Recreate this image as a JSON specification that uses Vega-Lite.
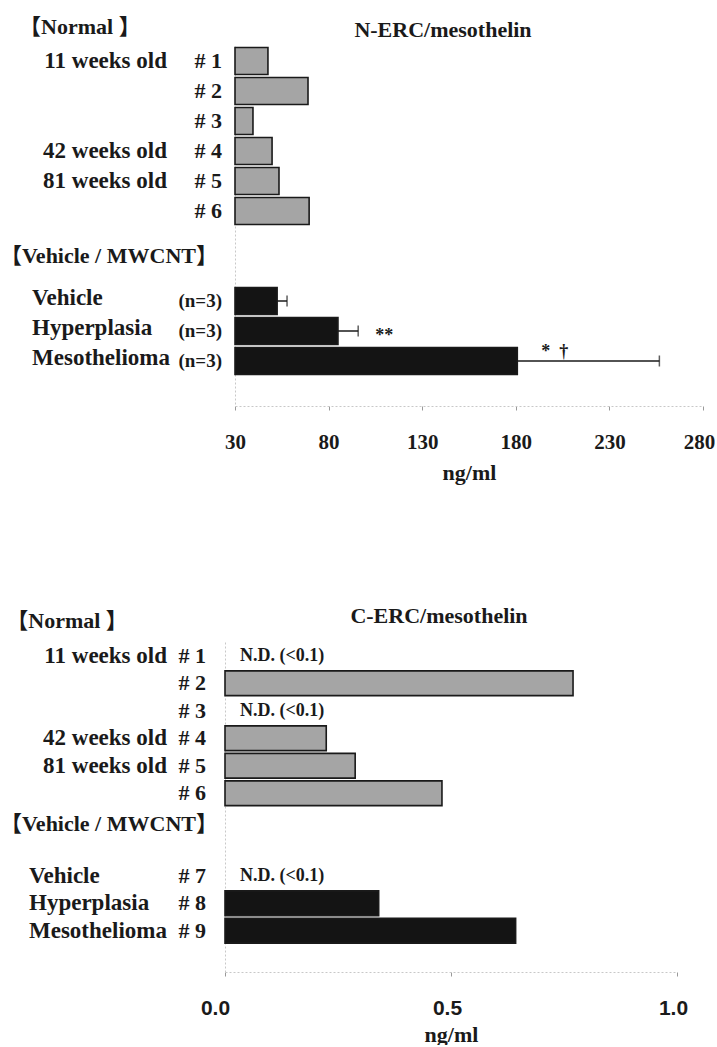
{
  "$schema": "https://vega.github.io/schema/vega-lite/v6.json",
  "background": "white",
  "padding": {"left": 0, "top": 16, "right": 0, "bottom": 0},
  "config": {
    "view": {"stroke": null},
    "font": "Liberation Serif",
    "text": {"font": "Liberation Serif", "fontWeight": "bold", "color": "#1a1a1a"}
  },
  "datasets": {
    "nerc": [
      {"row": "#1", "group": "11 weeks old", "kind": "Normal", "id": "# 1", "value": 47.6},
      {"row": "#2", "group": "", "kind": "Normal", "id": "# 2", "value": 69.0},
      {"row": "#3", "group": "", "kind": "Normal", "id": "# 3", "value": 39.6},
      {"row": "#4", "group": "42 weeks old", "kind": "Normal", "id": "# 4", "value": 49.8},
      {"row": "#5", "group": "81 weeks old", "kind": "Normal", "id": "# 5", "value": 53.5},
      {"row": "#6", "group": "", "kind": "Normal", "id": "# 6", "value": 69.6},
      {"row": "Vehicle", "group": "Vehicle", "kind": "MWCNT", "id": "(n=3)", "value": 52.5, "upper": 57.8, "sig": ""},
      {"row": "Hyperplasia", "group": "Hyperplasia", "kind": "MWCNT", "id": "(n=3)", "value": 85.0, "upper": 95.8, "sig": "**"},
      {"row": "Mesothelioma", "group": "Mesothelioma", "kind": "MWCNT", "id": "(n=3)", "value": 180.8, "upper": 256.7, "sig": "*\u00a0\u00a0†"}
    ],
    "cerc": [
      {"row": "#1", "group": "11 weeks old", "kind": "Normal", "id": "# 1", "value": null, "note": "N.D. (<0.1)"},
      {"row": "#2", "group": "", "kind": "Normal", "id": "# 2", "value": 0.77, "note": ""},
      {"row": "#3", "group": "", "kind": "Normal", "id": "# 3", "value": null, "note": "N.D. (<0.1)"},
      {"row": "#4", "group": "42 weeks old", "kind": "Normal", "id": "# 4", "value": 0.224, "note": ""},
      {"row": "#5", "group": "81 weeks old", "kind": "Normal", "id": "# 5", "value": 0.288, "note": ""},
      {"row": "#6", "group": "", "kind": "Normal", "id": "# 6", "value": 0.48, "note": ""},
      {"row": "#7", "group": "Vehicle", "kind": "MWCNT", "id": "# 7", "value": null, "note": "N.D. (<0.1)"},
      {"row": "#8", "group": "Hyperplasia", "kind": "MWCNT", "id": "# 8", "value": 0.34, "note": ""},
      {"row": "#9", "group": "Mesothelioma", "kind": "MWCNT", "id": "# 9", "value": 0.643, "note": ""}
    ]
  },
  "vconcat": [
    {
      "spacing": 0,
      "hconcat": [
        {
          "width": 224,
          "height": {"step": 30},
          "data": {"name": "nerc"},
          "layer": [
            {
              "transform": [{"filter": "datum.kind === 'Normal' && datum.group !== ''"}],
              "mark": {"type": "text", "align": "right", "baseline": "middle", "fontSize": 23},
              "encoding": {
                "y": {"field": "row", "type": "nominal", "axis": null,
                      "scale": {"type": "band", "domain": ["#1","#2","#3","#4","#5","#6","b1","b2","Vehicle","Hyperplasia","Mesothelioma","b3"], "paddingInner": 0.1, "paddingOuter": 0.05}},
                "x": {"datum": 0.7455, "type": "quantitative", "axis": null, "scale": {"domain": [0, 1], "nice": false, "zero": false}},
                "text": {"field": "group"}
              }
            },
            {
              "transform": [{"filter": "datum.kind === 'MWCNT'"}],
              "mark": {"type": "text", "align": "left", "baseline": "middle", "fontSize": 23, "dy": -3},
              "encoding": {
                "y": {"field": "row", "type": "nominal"},
                "x": {"datum": 0.1429, "type": "quantitative"},
                "text": {"field": "group"}
              }
            },
            {
              "mark": {"type": "text", "align": "right", "baseline": "middle"},
              "encoding": {
                "y": {"field": "row", "type": "nominal"},
                "x": {"datum": 0.991, "type": "quantitative"},
                "text": {"field": "id"},
                "size": {"condition": {"test": "datum.kind === 'MWCNT'", "value": 19}, "value": 22}
              }
            },
            {
              "data": {"values": [{"header": "【Normal 】", "row": "#1"}]},
              "mark": {"type": "text", "align": "left", "baseline": "middle", "fontSize": 22, "dy": -34, "font": "Liberation Serif, Noto Sans CJK JP"},
              "encoding": {
                "y": {"field": "row", "type": "nominal"},
                "x": {"datum": 0.085, "type": "quantitative"},
                "text": {"field": "header"}
              }
            },
            {
              "data": {"values": [{"header": "【Vehicle / MWCNT】", "row": "b1"}]},
              "mark": {"type": "text", "align": "left", "baseline": "middle", "fontSize": 22, "dy": 15, "font": "Liberation Serif, Noto Sans CJK JP"},
              "encoding": {
                "y": {"field": "row", "type": "nominal"},
                "x": {"datum": 0.0, "type": "quantitative"},
                "text": {"field": "header"}
              }
            }
          ]
        },
        {
          "width": 468,
          "height": {"step": 30},
          "data": {"name": "nerc"},
          "title": {"text": "N-ERC/mesothelin", "font": "Liberation Serif", "fontSize": 22, "fontWeight": "bold", "color": "#1a1a1a", "anchor": "middle", "frame": "group", "dx": -26, "offset": 4},
          "encoding": {
            "y": {"field": "row", "type": "nominal",
                  "scale": {"type": "band", "domain": ["#1","#2","#3","#4","#5","#6","b1","b2","Vehicle","Hyperplasia","Mesothelioma","b3"], "paddingInner": 0.1, "paddingOuter": 0.05},
                  "axis": {"labels": false, "ticks": false, "title": null, "domainColor": "#c8c8c8", "domainDash": [2, 2], "domainWidth": 1}}
          },
          "layer": [
            {
              "mark": {"type": "bar", "stroke": "#1a1a1a", "strokeWidth": 1.6},
              "encoding": {
                "x": {"field": "value", "type": "quantitative",
                      "scale": {"domain": [30, 280], "nice": false, "zero": false},
                      "axis": {"values": [30, 80, 130, 180, 230, 280], "title": "ng/ml", "grid": false, "labelFlush": false,
                               "labelOffset": {"condition": {"test": "datum.value === 280", "value": -4}, "value": 0},
                               "labelFont": "Liberation Serif", "labelFontWeight": "bold", "labelFontSize": 21, "labelColor": "#1a1a1a",
                               "labelPadding": 21, "tickSize": 4, "tickColor": "#999999", "domainColor": "#c8c8c8", "domainDash": [2, 2],
                               "titleFont": "Liberation Serif", "titleFontSize": 22, "titleFontWeight": "bold", "titleColor": "#1a1a1a", "titlePadding": 10}},
                "x2": {"datum": 30},
                "color": {"field": "kind", "type": "nominal", "legend": null,
                          "scale": {"domain": ["Normal", "MWCNT"], "range": ["#a5a5a5", "#141414"]}}
              }
            },
            {
              "transform": [{"filter": "isValid(datum.upper)"}],
              "mark": {"type": "rule", "color": "#1a1a1a", "strokeWidth": 1.5},
              "encoding": {
                "x": {"field": "value", "type": "quantitative"},
                "x2": {"field": "upper"}
              }
            },
            {
              "transform": [{"filter": "isValid(datum.upper)"}],
              "mark": {"type": "tick", "color": "#1a1a1a", "orient": "vertical", "size": 11, "thickness": 1.5},
              "encoding": {
                "x": {"field": "upper", "type": "quantitative"}
              }
            },
            {
              "transform": [{"filter": "datum.sig === '**'"}],
              "mark": {"type": "text", "align": "left", "baseline": "middle", "fontSize": 18, "dx": 17, "dy": 5},
              "encoding": {
                "x": {"field": "upper", "type": "quantitative"},
                "text": {"field": "sig"}
              }
            },
            {
              "transform": [{"filter": "datum.row === 'Mesothelioma'"}],
              "mark": {"type": "text", "align": "left", "baseline": "middle", "fontSize": 18, "dx": 24, "dy": -9},
              "encoding": {
                "x": {"field": "value", "type": "quantitative"},
                "text": {"field": "sig"}
              }
            }
          ]
        }
      ]
    },
    {
      "spacing": -18,
      "hconcat": [
        {
          "width": 202,
          "height": {"step": 27.5},
          "data": {"name": "cerc"},
          "layer": [
            {
              "transform": [{"filter": "datum.kind === 'Normal' && datum.group !== ''"}],
              "mark": {"type": "text", "align": "right", "baseline": "middle", "fontSize": 23},
              "encoding": {
                "y": {"field": "row", "type": "nominal", "axis": null,
                      "scale": {"type": "band", "domain": ["#1","#2","#3","#4","#5","#6","b1","b2","#7","#8","#9","b3"], "paddingInner": 0.1, "paddingOuter": 0.05}},
                "x": {"datum": 0.8267, "type": "quantitative", "axis": null, "scale": {"domain": [0, 1], "nice": false, "zero": false}},
                "text": {"field": "group"}
              }
            },
            {
              "transform": [{"filter": "datum.kind === 'MWCNT'"}],
              "mark": {"type": "text", "align": "left", "baseline": "middle", "fontSize": 23},
              "encoding": {
                "y": {"field": "row", "type": "nominal"},
                "x": {"datum": 0.1436, "type": "quantitative"},
                "text": {"field": "group"}
              }
            },
            {
              "mark": {"type": "text", "align": "right", "baseline": "middle", "fontSize": 22},
              "encoding": {
                "y": {"field": "row", "type": "nominal"},
                "x": {"datum": 1.0198, "type": "quantitative"},
                "text": {"field": "id"}
              }
            },
            {
              "data": {"values": [{"header": "【Normal 】", "row": "#1"}]},
              "mark": {"type": "text", "align": "left", "baseline": "middle", "fontSize": 22, "dy": -35, "font": "Liberation Serif, Noto Sans CJK JP"},
              "encoding": {
                "y": {"field": "row", "type": "nominal"},
                "x": {"datum": 0.031, "type": "quantitative"},
                "text": {"field": "header"}
              }
            },
            {
              "data": {"values": [{"header": "【Vehicle / MWCNT】", "row": "b1"}]},
              "mark": {"type": "text", "align": "left", "baseline": "middle", "fontSize": 22, "dy": 3, "font": "Liberation Serif, Noto Sans CJK JP"},
              "encoding": {
                "y": {"field": "row", "type": "nominal"},
                "x": {"datum": 0.0, "type": "quantitative"},
                "text": {"field": "header"}
              }
            }
          ]
        },
        {
          "width": 452,
          "height": {"step": 27.5},
          "data": {"name": "cerc"},
          "title": {"text": "C-ERC/mesothelin", "font": "Liberation Serif", "fontSize": 22, "fontWeight": "bold", "color": "#1a1a1a", "anchor": "middle", "frame": "group", "dx": -12, "offset": 14},
          "encoding": {
            "y": {"field": "row", "type": "nominal",
                  "scale": {"type": "band", "domain": ["#1","#2","#3","#4","#5","#6","b1","b2","#7","#8","#9","b3"], "paddingInner": 0.1, "paddingOuter": 0.05},
                  "axis": {"labels": false, "ticks": false, "title": null, "domainColor": "#c8c8c8", "domainDash": [2, 2], "domainWidth": 1}}
          },
          "layer": [
            {
              "transform": [{"filter": "isValid(datum.value)"}],
              "mark": {"type": "bar", "stroke": "#1a1a1a", "strokeWidth": 1.6},
              "encoding": {
                "x": {"field": "value", "type": "quantitative",
                      "scale": {"domain": [0, 1], "nice": false},
                      "axis": {"values": [0, 0.5, 1], "format": ".1f", "title": "ng/ml", "grid": false, "labelFlush": false,
                               "labelOffset": {"condition": {"test": "datum.value === 0", "value": -10}, "value": -4},
                               "labelFont": "Liberation Sans", "labelFontWeight": "bold", "labelFontSize": 21, "labelColor": "#1a1a1a",
                               "labelPadding": 21, "tickSize": 4, "tickColor": "#999999", "domainColor": "#c8c8c8", "domainDash": [2, 2],
                               "titleFont": "Liberation Serif", "titleFontSize": 22, "titleFontWeight": "bold", "titleColor": "#1a1a1a", "titlePadding": 6}},
                "color": {"field": "kind", "type": "nominal", "legend": null,
                          "scale": {"domain": ["Normal", "MWCNT"], "range": ["#a5a5a5", "#141414"]}}
              }
            },
            {
              "transform": [{"filter": "datum.note !== ''"}],
              "mark": {"type": "text", "align": "left", "baseline": "middle", "fontSize": 18, "dx": 15},
              "encoding": {
                "x": {"datum": 0, "type": "quantitative"},
                "text": {"field": "note"}
              }
            }
          ]
        }
      ]
    }
  ],
  "spacing": 122
}
